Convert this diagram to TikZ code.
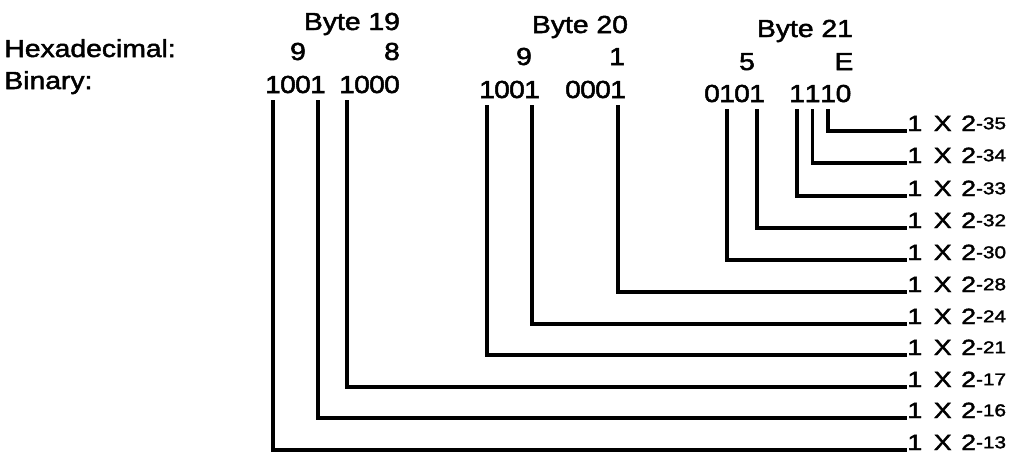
\documentclass[tikz,border=0pt]{standalone}
\usepackage{fontspec}
\setmainfont{Liberation Sans}[FakeStretch=1.15, FakeBold=2]
\newfontfamily\labfont{Liberation Sans}[FakeStretch=1.22, FakeBold=2]
\newcommand{\expo}[1]{\raisebox{0.9pt}{\fontsize{8.5}{9}\selectfont #1}}
\usetikzlibrary{positioning}

\begin{document}
\begin{tikzpicture}[x=0.5pt, y=-0.5pt,
        head/.style={inner sep=0pt, anchor=base, font=\fontsize{12.3}{14}\selectfont},
        bit/.style={head, inner ysep=3.5pt},
        lab/.style={inner sep=0pt, anchor=base west,
                    font=\labfont\fontsize{11}{12}\selectfont},
        lead/.style={line width=1.6pt}
      ]
        \useasboundingbox (0,0) rectangle (1015,461);

        % Row titles
        \node[head, anchor=base west] (hexlbl) at (4,57) {Hexadecimal:};
        \node[head, anchor=base west] (binlbl) at (4,89) {Binary:};

        % Byte headers
        \node[head] (byte19) at (352,30) {Byte 19};
        \node[head] (byte20) at (580,33) {Byte 20};
        \node[head] (byte21) at (805,37) {Byte 21};

        % Hex digits
        \node[head] (h19a) at (298,60) {9};
        \node[head] (h19b) at (392,60) {8};
        \node[head] (h20a) at (524,65) {9};
        \node[head] (h20b) at (617,65) {1};
        \node[head] (h21a) at (747,70) {5};
        \node[head] (h21b) at (844,70) {E};

        % Binary digits
        \foreach \d [count=\i] in {1,0,0,1}
          \node[bit] (b19h\i) at ({273+15*(\i-1)},93) {\d};
        \foreach \d [count=\i] in {1,0,0,0}
          \node[bit] (b19l\i) at ({347+15*(\i-1)},93) {\d};
        \foreach \d [count=\i] in {1,0,0,1}
          \node[bit] (b20h\i) at ({487+15*(\i-1)},98) {\d};
        \foreach \d [count=\i] in {0,0,0,1}
          \node[bit] (b20l\i) at ({573+15*(\i-1)},98) {\d};
        \foreach \d [count=\i] in {0,1,0,1}
          \node[bit] (b21h\i) at ({712+15*(\i-1)},102) {\d};
        \foreach \d [count=\i] in {1,1,1,0}
          \node[bit] (b21l\i) at ({797+15.5*(\i-1)},102) {\d};

        % Place values
        \foreach \e/\y in {35/131, 34/163, 33/196, 32/228, 30/260, 28/292,
                           24/324, 21/355, 17/387, 16/418, 13/450}
          \node[lab] (l\e) at (907,\y) {1\hspace{2pt} X\hspace{1pt} 2\expo{-\e}};

        \draw[lead] (b21l3.south) |- (l35.base west);
        \draw[lead] (b21l2.south) |- (l34.base west);
        \draw[lead] (b21l1.south) |- (l33.base west);
        \draw[lead] (b21h4.south) |- (l32.base west);
        \draw[lead] (b21h2.south) |- (l30.base west);
        \draw[lead] (b20l4.south) |- (l28.base west);
        \draw[lead] (b20h4.south) |- (l24.base west);
        \draw[lead] (b20h1.south) |- (l21.base west);
        \draw[lead] (b19l1.south) |- (l17.base west);
        \draw[lead] (b19h4.south) |- (l16.base west);
        \draw[lead] (b19h1.south) |- (l13.base west);
      \end{tikzpicture}
\end{document}
